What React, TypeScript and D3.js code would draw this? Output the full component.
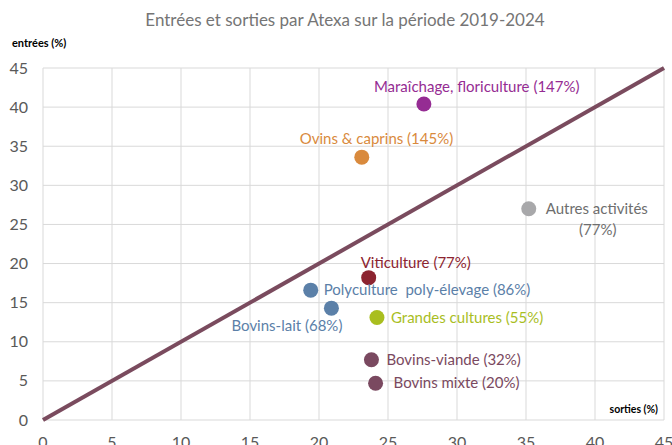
import React from "react";
import * as d3 from "d3";

const categories = [
  "Maraîchage, floriculture",
  "Ovins & caprins",
  "Autres activités",
  "Viticulture",
  "Polyculture  poly-élevage",
  "Bovins-lait",
  "Grandes cultures",
  "Bovins-viande",
  "Bovins mixte",
];
const sorties = [27.6, 23.1, 35.2, 23.6, 19.4, 20.9, 24.2, 23.8, 24.1];
const entrees = [40.4, 33.6, 27.0, 18.2, 16.6, 14.3, 13.1, 7.7, 4.7];
const ratios = ["147%", "145%", "77%", "77%", "86%", "68%", "55%", "32%", "20%"];
const colors = ["#952C93", "#D98A3D", "#A8A8AA", "#8C2430", "#5B80A8", "#5B80A8", "#A9BE1F", "#7A4960", "#7A4960"];
const labelColors = ["#952C93", "#D98A3D", "#6E6E6E", "#8C2430", "#5B80A8", "#5B80A8", "#A9BE1F", "#7A4960", "#7A4960"];
const ticks = [0, 5, 10, 15, 20, 25, 30, 35, 40, 45];

// label layout (pixel offsets from the marker)
const labelLayout = [
  { dx: -50, dy: -17, anchor: "start" },
  { dx: -62, dy: -18, anchor: "start" },
  { dx: 17, dy: 0, anchor: "start", split: true },
  { dx: -8, dy: -15, anchor: "start" },
  { dx: 13, dy: 0, anchor: "start" },
  { dx: 11, dy: 18, anchor: "end" },
  { dx: 14, dy: 0, anchor: "start" },
  { dx: 15, dy: 0, anchor: "start" },
  { dx: 18, dy: 0, anchor: "start" },
];

const W = 672;
const H = 445;
const font = "Lato, 'Noto Sans', sans-serif";
const labelSize = 15;

export default function App() {
  const x = d3.scaleLinear().domain([0, 45]).range([43, 664]);
  const y = d3.scaleLinear().domain([0, 45]).range([420, 68]);
  const line = d3.line<number>().x((d) => x(d)).y((d) => y(d));

  return (
    <div style={{ position: "absolute", left: 0, top: 0 }}>
      <svg width={W} height={H} style={{ display: "block", background: "#fff" }}>
        <rect width={W} height={H} fill="#fff" />
        {ticks.map((t) => (
          <g key={"g" + t}>
            <line x1={x(t)} x2={x(t)} y1={y(0)} y2={y(45)} stroke="#D9D9D9" strokeWidth={1} />
            <line x1={x(0)} x2={x(45)} y1={y(t)} y2={y(t)} stroke="#D9D9D9" strokeWidth={1} />
          </g>
        ))}
        {ticks.map((t) => (
          <text key={"yl" + t} x={28} y={y(t)} dy="0.35em" textAnchor="end" fontFamily={font} fontSize={16} fill="#595959">
            {t}
          </text>
        ))}
        {ticks.map((t) => (
          <text key={"xl" + t} x={x(t)} y={442} dy="0.35em" textAnchor="middle" fontFamily={font} fontSize={16} fill="#595959">
            {t}
          </text>
        ))}
        <path d={line([0, 45]) || ""} stroke="#7A4B5E" strokeWidth={4} fill="none" />
        {categories.map((c, i) => {
          const px = x(sorties[i]);
          const py = y(entrees[i]);
          const L = labelLayout[i];
          return (
            <g key={c}>
              <circle cx={px} cy={py} r={7.5} fill={colors[i]} />
              {L.split ? (
                <text fontFamily={font} fontSize={labelSize} fill={labelColors[i]}>
                  <tspan x={px + L.dx} y={py + L.dy} dy="0.35em">{c}</tspan>
                  <tspan x={px + L.dx + 52} y={py + L.dy + 21} dy="0.35em" textAnchor="middle">({ratios[i]})</tspan>
                </text>
              ) : (
                <text
                  x={px + L.dx}
                  y={py + L.dy}
                  dy="0.35em"
                  textAnchor={L.anchor}
                  fontFamily={font}
                  fontSize={labelSize}
                  fill={labelColors[i]}
                  style={{ whiteSpace: "pre" }}
                >
                  {c + " (" + ratios[i] + ")"}
                </text>
              )}
            </g>
          );
        })}
        <text x={345} y={20} dy="0.35em" textAnchor="middle" fontFamily={font} fontSize={17} fill="#757575">
          Entrées et sorties par Atexa sur la période 2019-2024
        </text>
        <text x={12} y={43} dy="0.35em" fontFamily={font} fontSize={11} fontWeight="bold" fill="#000">
          entrées (%)
        </text>
        <text x={658} y={409} dy="0.35em" textAnchor="end" fontFamily={font} fontSize={10.5} fontWeight="bold" fill="#000">
          sorties (%)
        </text>
      </svg>
    </div>
  );
}
